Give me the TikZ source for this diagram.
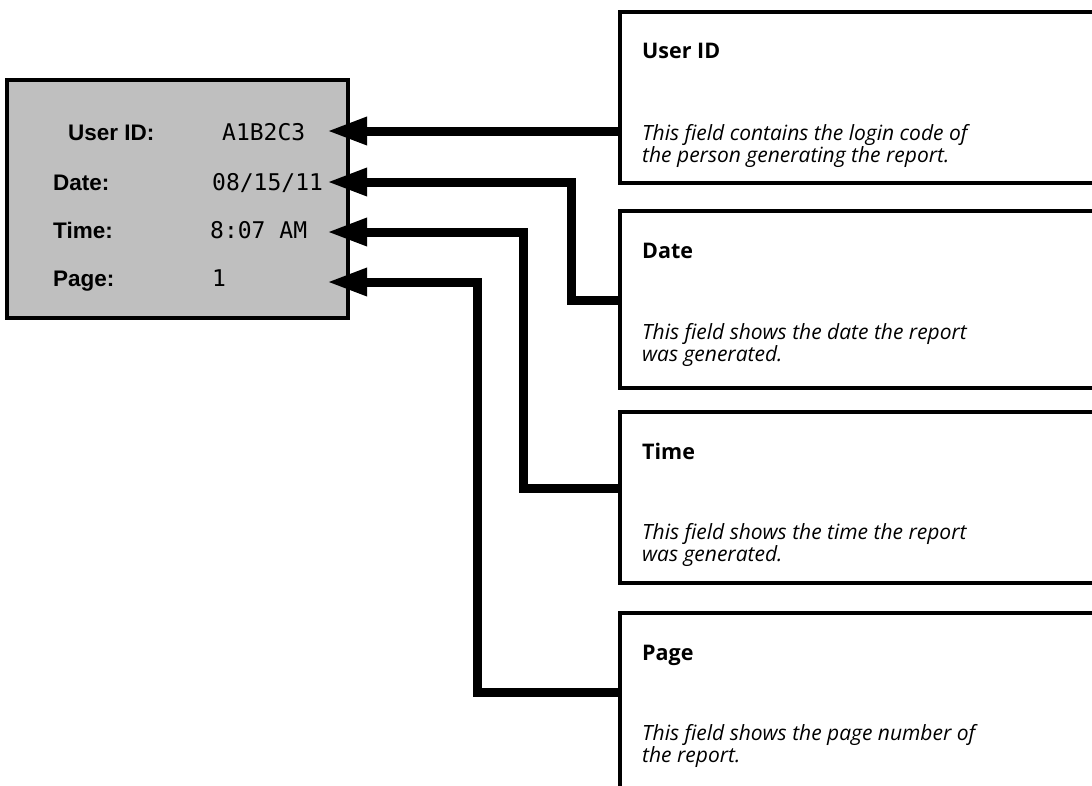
\documentclass[tikz,border=0pt]{standalone}
\usepackage{fontspec}
\setmainfont{Open Sans}
\newfontfamily\stampfont{Liberation Sans}
\newfontfamily\valuefont{DejaVu Sans Mono}
\usetikzlibrary{arrows.meta}
\begin{document}
\begin{tikzpicture}[x=1pt, y=-1pt,
  stamp/.style={draw=black, line width=3.5pt, fill=black!25, anchor=north west, outer sep=0pt, inner sep=0pt, minimum width=341pt, minimum height=238pt},
  infobox/.style={draw=black, line width=4.5pt, anchor=north west, outer sep=0pt, inner sep=0pt, minimum width=520pt},
  fieldname/.style={anchor=base west, inner sep=0pt, font=\stampfont\bfseries\fontsize{22.5}{26}\selectfont},
  fieldvalue/.style={anchor=base west, inner sep=0pt, font=\valuefont\fontsize{23}{26}\selectfont},
  boxtitle/.style={anchor=base west, inner sep=0pt, font=\bfseries\fontsize{21.5}{24}\selectfont},
  boxtext/.style={anchor=north west, inner sep=0pt, align=left, font=\itshape\fontsize{21}{22}\selectfont},
  link/.style={draw=black, line width=9pt, -{Triangle[length=40pt, width=26pt]}}]
\useasboundingbox (0,0) rectangle (1092,785);
\node [stamp] (header) at (7,80) {};
\node [fieldname] (uidname) at (68,140) {User ID:};
\node [fieldvalue] (uidvalue) at (222,140) {A1B2C3};
\node [fieldname] (datename) at (53,190) {Date:};
\node [fieldvalue] (datevalue) at (212,190) {08/15/11};
\node [fieldname] (timename) at (53,238) {Time:};
\node [fieldvalue] (timevalue) at (210,238) {8:07 AM};
\node [fieldname] (pagename) at (53,286) {Page:};
\node [fieldvalue] (pagevalue) at (212,286) {1};
\node [infobox, minimum height=171pt] (uidbox) at (620,12) {};
\node [infobox, minimum height=177pt] (datebox) at (620,211) {};
\node [infobox, minimum height=171pt] (timebox) at (620,412) {};
\node [infobox, minimum height=190pt] (pagebox) at (620,613) {};
\node [boxtitle] (uidtitle) at (642,58) {User ID};
\node [boxtitle] (datetitle) at (642,258) {Date};
\node [boxtitle] (timetitle) at (642,459) {Time};
\node [boxtitle] (pagetitle) at (642,660) {Page};
\node [boxtext] (uidtext) at (642,124) {This field contains the login code of\\the person generating the report.};
\node [boxtext] (datetext) at (642,323) {This field shows the date the report\\was generated.};
\node [boxtext] (timetext) at (642,523) {This field shows the time the report\\was generated.};
\node [boxtext] (pagetext) at (642,724) {This field shows the page number of\\the report.};
\coordinate (uidtip) at (327,131);
\coordinate (datetip) at (327,182);
\coordinate (timetip) at (327,232);
\coordinate (pagetip) at (327,282);
\coordinate (datebend) at (571,300);
\coordinate (timebend) at (523,488);
\coordinate (pagebend) at (477,692);
\draw [link] (uidbox.west |- uidtip) -- (uidtip);
\draw [link] (datebox.west |- datebend) -- (datebend) |- (datetip);
\draw [link] (timebox.west |- timebend) -- (timebend) |- (timetip);
\draw [link] (pagebox.west |- pagebend) -- (pagebend) |- (pagetip);
\end{tikzpicture}
\end{document}
